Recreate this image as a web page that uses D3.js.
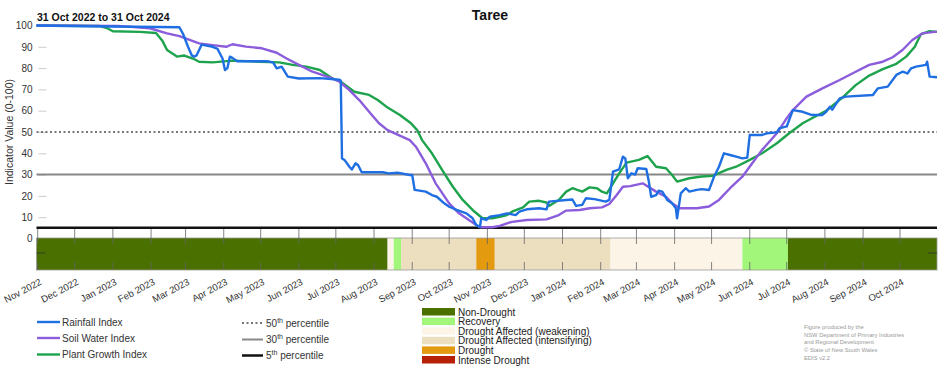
<!DOCTYPE html>
<html><head><meta charset="utf-8">
<script src="https://cdn.jsdelivr.net/npm/d3@7"></script>
<style>
html,body{margin:0;padding:0;background:#fff;}
svg{display:block;font-family:"Liberation Sans",Arial,sans-serif;}
</style></head>
<body><svg id="c" width="952" height="370"></svg>
<script>
const title = "Taree";
const subtitle = "31 Oct 2022 to 31 Oct 2024";
const yTicks = [0,10,20,30,40,50,60,70,80,90,100];
const percentiles = [50, 30, 5];

const rainfall = [
["2022-10-31",100],["2022-11-25",99.8],["2023-01-01",99.5],["2023-02-24",99.2],["2023-02-27",96],
["2023-03-03",90],["2023-03-06",86],["2023-03-08",85.4],["2023-03-10",86],["2023-03-14",91],
["2023-03-23",90],["2023-03-27",89],["2023-03-31",84.5],["2023-04-02",79.1],["2023-04-04",80],
["2023-04-06",85.4],["2023-04-08",84.8],["2023-04-12",83.2],["2023-05-06",83.2],["2023-05-11",82.7],
["2023-05-14",79.9],["2023-05-18",80.7],["2023-05-23",76],["2023-06-01",75.1],["2023-06-18",75.3],
["2023-07-04",74.5],["2023-07-05",74.2],["2023-07-06",37.6],["2023-07-08",36.9],["2023-07-12",33.7],
["2023-07-14",32.4],["2023-07-17",35.3],["2023-07-19",34.5],["2023-07-22",31.1],["2023-08-08",31.1],
["2023-08-13",30.6],["2023-08-20",30.9],["2023-08-30",29.8],["2023-09-01",29.8],["2023-09-03",22.8],
["2023-09-12",22.0],["2023-09-17",20.4],["2023-09-21",19.6],["2023-09-27",16.5],["2023-10-01",14.9],
["2023-10-07",13.4],["2023-10-15",11.8],["2023-10-20",9.5],["2023-10-23",6.3],["2023-10-26",5.5],
["2023-10-27",9.5],["2023-10-31",8.7],["2023-11-03",10.2],["2023-11-11",11.0],["2023-11-17",11.8],
["2023-11-24",11.0],["2023-11-27",12.6],["2023-12-03",13.7],["2023-12-13",14.2],["2023-12-19",13.7],
["2023-12-21",17.3],["2024-01-04",18.1],["2024-01-09",18.3],["2024-01-12",15.3],["2024-01-17",15.8],
["2024-01-20",18.9],["2024-01-27",18.5],["2024-02-05",17.3],["2024-02-08",18.1],["2024-02-11",31.4],
["2024-02-16",32.4],["2024-02-19",38.4],["2024-02-21",37.6],["2024-02-23",28.3],["2024-02-26",30.6],
["2024-02-29",30.0],["2024-03-02",33.0],["2024-03-09",32.6],["2024-03-11",27],["2024-03-13",19.6],
["2024-03-17",20.4],["2024-03-19",22.4],["2024-03-22",22.0],["2024-03-26",18.1],["2024-03-30",16.5],
["2024-04-02",14.2],["2024-04-03",9.5],["2024-04-06",21.2],["2024-04-10",23.6],["2024-04-13",22.0],
["2024-04-19",22.8],["2024-04-23",23.2],["2024-04-29",22.8],["2024-05-03",29.0],["2024-05-07",33.7],
["2024-05-11",40.0],["2024-05-16",39.2],["2024-05-21",38.4],["2024-05-26",37.6],["2024-05-30",38.0],
["2024-06-01",48.6],["2024-06-11",48.6],["2024-06-15",49.4],["2024-06-23",49.8],["2024-06-25",51.7],
["2024-07-01",52.6],["2024-07-06",60.3],["2024-07-14",59.5],["2024-07-21",58],["2024-07-30",58],
["2024-08-02",59.5],["2024-08-05",61.8],["2024-08-07",60.5],["2024-08-13",65.8],["2024-08-18",66.6],
["2024-09-09",67.4],["2024-09-13",70.5],["2024-09-21",71.3],["2024-09-28",76.8],["2024-10-03",78.3],
["2024-10-07",77.5],["2024-10-10",79.9],["2024-10-14",80.7],["2024-10-22",81.5],["2024-10-23",83.0],
["2024-10-25",76.0],["2024-10-31",75.7]
];

const soilWater = [
["2022-10-31",100],["2023-01-05",99.8],["2023-01-31",98.7],["2023-02-14",96.3],["2023-02-24",95],
["2023-03-12",91.6],["2023-03-23",90.8],["2023-04-03",90.0],["2023-04-08",91.2],["2023-04-19",90.1],
["2023-05-02",89.3],["2023-05-14",87.2],["2023-05-22",84.5],["2023-06-01",81.5],["2023-06-12",78.3],
["2023-06-18",77.2],["2023-06-28",75.2],["2023-07-04",73.6],["2023-07-12",69.7],["2023-07-20",65.0],
["2023-07-28",59.5],["2023-08-05",54.1],["2023-08-12",50.9],["2023-08-30",46.2],["2023-09-04",43.1],
["2023-09-12",35.3],["2023-09-20",25.9],["2023-10-01",16.5],["2023-10-09",11.8],["2023-10-17",8.7],
["2023-10-23",6.3],["2023-10-26",5.3],["2023-11-05",5.3],["2023-11-11",5.9],["2023-11-17",7.1],
["2023-11-21",7.8],["2023-12-03",8.7],["2023-12-19",9.0],["2023-12-29",11.0],["2024-01-04",13.1],
["2024-01-15",13.4],["2024-01-23",14.2],["2024-02-02",14.6],["2024-02-08",16.2],["2024-02-14",20.4],
["2024-02-19",24.3],["2024-02-25",24.6],["2024-03-06",25.9],["2024-03-17",22.0],["2024-03-25",19.6],
["2024-03-30",16.5],["2024-04-05",14.2],["2024-04-19",14.2],["2024-04-29",15.0],["2024-05-07",18.1],
["2024-05-16",23.6],["2024-05-26",29.0],["2024-06-03",35.3],["2024-06-11",41.6],["2024-06-23",49.4],
["2024-06-30",55.6],["2024-07-06",60.3],["2024-07-17",66.6],["2024-07-30",70.5],["2024-08-13",74.4],
["2024-08-26",78.3],["2024-09-06",81.5],["2024-09-17",83.0],["2024-09-25",85.1],["2024-10-03",88.5],
["2024-10-11",93.2],["2024-10-19",96.3],["2024-10-29",97.0],["2024-10-31",97.0]
];

const plantGrowth = [
["2022-10-31",100],["2022-12-21",99.8],["2022-12-27",98.8],["2023-01-01",97.3],["2023-01-23",97],
["2023-02-05",96.5],["2023-02-10",93],["2023-02-14",88.5],["2023-02-22",85.4],["2023-02-28",85.9],
["2023-03-07",84.5],["2023-03-12",83.0],["2023-03-23",82.7],["2023-04-08",83.5],["2023-04-30",83],
["2023-05-16",82.7],["2023-05-27",81.5],["2023-06-07",80.7],["2023-06-18",79.1],["2023-06-28",75.2],
["2023-07-05",73.6],["2023-07-16",68.9],["2023-07-28",67.4],["2023-08-04",65],["2023-08-11",61.9],
["2023-08-22",58],["2023-08-31",54.1],["2023-09-05",50.9],["2023-09-09",46.2],["2023-09-17",40],
["2023-09-27",30.6],["2023-10-04",24.3],["2023-10-12",18.1],["2023-10-20",13.4],["2023-10-28",9.5],
["2023-11-05",9.5],["2023-11-11",10.2],["2023-11-17",11.0],["2023-11-21",12.6],["2023-11-30",14.6],
["2023-12-05",17.3],["2023-12-13",17.7],["2023-12-19",16.9],["2023-12-21",15.3],["2023-12-29",18.1],
["2024-01-04",22.0],["2024-01-09",23.6],["2024-01-17",22.0],["2024-01-23",24.0],["2024-01-29",23.6],
["2024-02-02",22.0],["2024-02-06",21.2],["2024-02-11",25.9],["2024-02-16",30.6],["2024-02-22",35.6],
["2024-03-03",36.9],["2024-03-10",38.7],["2024-03-17",33.7],["2024-03-25",33.0],["2024-03-30",29.8],
["2024-04-03",26.7],["2024-04-13",28.3],["2024-04-23",29.1],["2024-05-02",29.4],["2024-05-13",32.2],
["2024-05-21",33.7],["2024-06-01",36.9],["2024-06-11",40],["2024-06-23",44.7],["2024-07-03",49.4],
["2024-07-14",54.1],["2024-07-20",56],["2024-08-02",60],["2024-08-15",66],["2024-08-26",72],
["2024-09-06",76.5],["2024-09-17",79.5],["2024-09-28",82],["2024-10-06",85.4],["2024-10-13",90],
["2024-10-18",96],["2024-10-25",97.3],["2024-10-31",97]
];

const seriesNames = ["Rainfall Index","Soil Water Index","Plant Growth Index"];
const seriesColors = ["#1f6fe3","#8b5cdb","#1ea34d"];

const droughtCats = ["Non-Drought","Recovery","Drought Affected (weakening)","Drought Affected (intensifying)","Drought","Intense Drought"];
const droughtColors = ["#4a7000","#a2f77a","#fdf4e8","#ebdfbf","#e39a0e","#b52006"];
const segStarts = ["2022-10-31","2023-08-12","2023-08-17","2023-08-23","2023-10-23","2023-11-07","2024-02-09","2024-05-26","2024-07-02"];
const segCats = ["Non-Drought","Drought Affected (weakening)","Recovery","Drought Affected (intensifying)","Drought","Drought Affected (intensifying)","Drought Affected (weakening)","Recovery","Non-Drought"];
const periodEnd = "2024-10-31";

const credits = ["Figure produced by the","NSW Department of Primary Industries","and Regional Development","\u00A9 State of New South Wales","EDIS v2.2"];

const parse = d3.timeParse("%Y-%m-%d");
const svg = d3.select("#c");
const L = 36.5, R = 937, T = 25.5, B = 238.5;
const barTop = 238, barBot = 270;

const x = d3.scaleTime().domain([parse("2022-10-31"), parse(periodEnd)]).range([L, R]);
const y = d3.scaleLinear().domain([0,100]).range([B, T]);

// titles
svg.append("text").attr("x", 490).attr("y", 20).attr("text-anchor","middle")
  .attr("font-size", 14).attr("font-weight","bold").attr("fill","#111").text(title);
svg.append("text").attr("x", 37).attr("y", 21).attr("font-size", 10.5).attr("font-weight","bold").attr("fill","#111").text(subtitle);

// y axis
const yAxis = d3.axisRight(y).tickValues(yTicks).tickSize(8).tickFormat(d3.format("d"));
const gy = svg.append("g").attr("transform",`translate(${L+2},0)`).call(yAxis);
gy.select(".domain").remove();
gy.selectAll(".tick line").attr("stroke","#ccc");
gy.selectAll(".tick text").attr("x",-6).attr("text-anchor","end").attr("font-size",10).attr("fill","#333").attr("font-family","Liberation Sans, Arial, sans-serif");
svg.append("text").attr("transform",`translate(13,${(T+B)/2}) rotate(-90)`).attr("text-anchor","middle")
  .attr("font-size",10.5).attr("fill","#333").text("Indicator Value (0-100)");

// drought bar
const segs = segStarts.map((s,i)=>({start: parse(s), end: i<segStarts.length-1 ? parse(segStarts[i+1]) : parse(periodEnd), cat: segCats[i]}));
const color = d3.scaleOrdinal().domain(droughtCats).range(droughtColors);
svg.append("g").selectAll("rect").data(segs).join("rect")
  .attr("x", d=>x(d.start)).attr("width", d=>x(d.end)-x(d.start))
  .attr("y", barTop).attr("height", barBot-barTop).attr("fill", d=>color(d.cat));
svg.append("rect").attr("x",L).attr("y",barTop).attr("width",R-L).attr("height",barBot-barTop)
  .attr("fill","none").attr("stroke","#999").attr("stroke-width",0.8);
svg.append("line").attr("x1",L).attr("x2",L+9).attr("y1",253).attr("y2",253).attr("stroke","#333").attr("stroke-width",0.8);
svg.append("line").attr("x1",R-9).attr("x2",R).attr("y1",253).attr("y2",253).attr("stroke","#333").attr("stroke-width",0.8);

// month ticks
const months = d3.timeMonth.range(parse("2022-11-01"), parse("2024-11-01"));
const tg = svg.append("g");
months.forEach(m=>{
  tg.append("line").attr("x1",x(m)).attr("x2",x(m)).attr("y1",228).attr("y2",244).attr("stroke","#666").attr("stroke-width",0.8);
  tg.append("line").attr("x1",x(m)).attr("x2",x(m)).attr("y1",262).attr("y2",270).attr("stroke","#666").attr("stroke-width",0.8);
});
const xAxis = d3.axisBottom(x).tickValues(months).tickSize(0).tickFormat(d3.timeFormat("%b %Y"));
const gx = svg.append("g").attr("transform",`translate(0,${barBot})`).call(xAxis);
gx.select(".domain").remove();
gx.selectAll(".tick text").attr("text-anchor","end").attr("font-size",9.5).attr("fill","#333")
  .attr("font-family","Liberation Sans, Arial, sans-serif")
  .attr("dy",0).attr("y",0).attr("transform","translate(4,14) rotate(-28)");

// percentile lines
const pStyles = {50:{c:"#777",w:2,d:"2,2.5"},30:{c:"#888",w:2,d:null},5:{c:"#111",w:2.5,d:null}};
percentiles.forEach(p=>{
  const s = pStyles[p];
  svg.append("line").attr("x1",L).attr("x2",R).attr("y1",y(p)).attr("y2",y(p))
    .attr("stroke",s.c).attr("stroke-width",s.w).attr("stroke-dasharray",s.d);
});

// series
const line = d3.line().x(d=>x(parse(d[0]))).y(d=>y(d[1]));
const allSeries = [rainfall, soilWater, plantGrowth];
[2,1,0].forEach(i=>{
  svg.append("path").datum(allSeries[i]).attr("d",line).attr("fill","none")
    .attr("stroke",seriesColors[i]).attr("stroke-width",2.4).attr("stroke-linejoin","round");
});

// legend: series
const ly = [325.5, 341.5, 358];
seriesNames.forEach((n,i)=>{
  svg.append("line").attr("x1",37).attr("x2",60).attr("y1",ly[i]-3.5).attr("y2",ly[i]-3.5).attr("stroke",seriesColors[i]).attr("stroke-width",2.4);
  svg.append("text").attr("x",62).attr("y",ly[i]).attr("font-size",10).attr("fill","#333").text(n);
});
// legend: percentiles
const py = [326.5, 343, 359];
percentiles.forEach((p,i)=>{
  const s = pStyles[p];
  svg.append("line").attr("x1",242).attr("x2",263).attr("y1",py[i]-3.5).attr("y2",py[i]-3.5)
    .attr("stroke",s.c).attr("stroke-width",s.w).attr("stroke-dasharray",s.d);
  const t = svg.append("text").attr("x",266).attr("y",py[i]).attr("font-size",10).attr("fill","#333");
  t.append("tspan").text(p);
  t.append("tspan").attr("dy",-4).attr("font-size",7).text("th");
  t.append("tspan").attr("dy",4).text(" percentile");
});
// legend: drought categories
droughtCats.forEach((c,i)=>{
  const yy = 308 + i*9.6;
  svg.append("rect").attr("x",422).attr("y",yy).attr("width",33).attr("height",7.5).attr("fill",droughtColors[i]);
  svg.append("text").attr("x",458).attr("y",yy+7.5).attr("font-size",10).attr("fill","#222").text(c);
});
// credits
credits.forEach((c,i)=>{
  svg.append("text").attr("x",804).attr("y",329+i*7.7).attr("font-size",5.8).attr("fill","#999").text(c);
});
</script></body></html>
